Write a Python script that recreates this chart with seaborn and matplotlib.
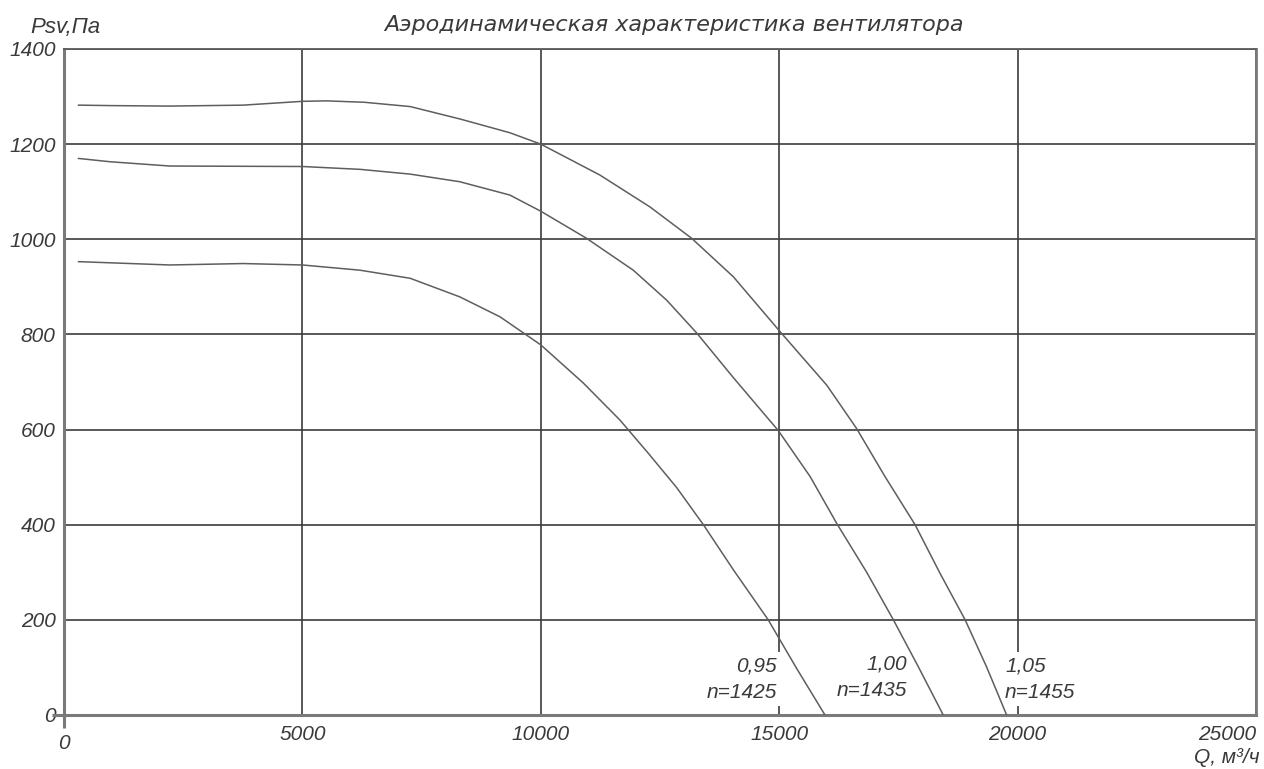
import numpy as np
import pandas as pd
import matplotlib
matplotlib.use("Agg")
import matplotlib.pyplot as plt
from matplotlib import font_manager as fm
from matplotlib.ticker import MultipleLocator
import seaborn as sns

# Fan pressure curves: static pressure Psv (Pa) vs air flow Q (m3/h)
q_095 = [300, 2220, 3760, 5000, 6210, 7260, 8300, 9145, 10000, 10890, 11660,
         12256, 12850, 13410, 14040, 14770, 15365, 15960]
p_095 = [953, 946, 949, 946, 935, 918, 879, 837, 778, 698, 620,
         550, 478, 400, 305, 200, 98, 0]

q_100 = [300, 965, 2220, 5000, 6210, 7260, 8300, 9350, 10000, 10960, 11940,
         12640, 13270, 14040, 14980, 15650, 16205, 16835, 17395, 17920, 18440]
p_100 = [1170, 1163, 1154, 1153, 1147, 1137, 1121, 1093, 1059, 1002, 935,
         872, 803, 709, 598, 501, 403, 300, 200, 101, 0]

q_105 = [300, 1000, 2200, 3760, 5000, 5500, 6300, 7260, 8300, 9350, 10000,
         11240, 12290, 13165, 14040, 15000, 16000, 16625, 17220, 17850, 18372,
         18900, 19350, 19770]
p_105 = [1282, 1281, 1280, 1282, 1290, 1291, 1288, 1279, 1253, 1224, 1200,
         1135, 1068, 1002, 921, 808, 693, 602, 501, 400, 298,
         200, 101, 0]

curve_names = ["0,95", "1,00", "1,05"]
curve_speeds = ["n=1425", "n=1435", "n=1455"]
x_ticks = [0, 5000, 10000, 15000, 20000, 25000]
y_ticks = [0, 200, 400, 600, 800, 1000, 1200, 1400]

title = "Аэродинамическая характеристика вентилятора"
y_label = "Psv,Па"
x_label = "Q, м³/ч"

df = pd.concat([
    pd.DataFrame({"Q": q, "P": p, "curve": name})
    for q, p, name in zip([q_095, q_100, q_105], [p_095, p_100, p_105], curve_names)
], ignore_index=True)

sns.set_style("white")
names = {f.name for f in fm.fontManager.ttflist}
if "Liberation Sans Narrow" in names:
    num_font, num_size = "Liberation Sans Narrow", 17
else:
    num_font, num_size = "Liberation Sans", 15
plt.rcParams["font.family"] = [num_font, "DejaVu Sans"]

ink = "#3a3a3a"
grid_c = "#3c3c3c"
spine_c = "#7a7a7a"
curve_c = "#5e5e5e"

fig = plt.figure(figsize=(12.64, 7.69), dpi=100)
ax = fig.add_axes([64 / 1264, 1 - 715 / 769, (1256 - 64) / 1264, (715 - 49) / 769])

sns.lineplot(data=df, x="Q", y="P", hue="curve", units="curve", estimator=None,
             sort=False, palette=[curve_c] * 3, linewidth=1.1, legend=False,
             ax=ax, zorder=3)
ax.set_xlabel("")
ax.set_ylabel("")

ax.set_xlim(0, 25000)
ax.set_ylim(0, 1400)
ax.set_axisbelow(True)
ax.grid(which="major", color=grid_c, linewidth=1.2)

ax.set_xticks(x_ticks)
ax.set_xticklabels(["" if v == 0 else str(v) for v in x_ticks])
ax.set_yticks(y_ticks)
ax.set_yticklabels([str(v) for v in y_ticks])
ax.xaxis.set_minor_locator(MultipleLocator(1000))
ax.yaxis.set_minor_locator(MultipleLocator(40))

ax.tick_params(axis="x", which="major", direction="in", length=10, width=1.3,
               color=spine_c, pad=7, labelsize=num_size, labelcolor=ink)
ax.tick_params(axis="x", which="minor", direction="in", length=6, width=1.1,
               color=spine_c)
ax.tick_params(axis="y", which="major", direction="in", length=0, pad=6,
               labelsize=num_size, labelcolor=ink)
ax.tick_params(axis="y", which="minor", direction="in", length=5, width=1.1,
               color=spine_c)
for lbl in ax.get_xticklabels() + ax.get_yticklabels():
    lbl.set_fontstyle("italic")
ax.get_xticklabels()[-1].set_ha("right")

# the origin label on the flow axis sits a little lower than the others
ax.annotate("0", xy=(0, 0), xycoords=("data", "axes fraction"),
            xytext=(0, -14), textcoords="offset points", ha="center", va="top",
            fontsize=num_size, fontstyle="italic", color=ink,
            annotation_clip=False)

for side, lw, c in [("left", 2.2, spine_c), ("bottom", 2.2, spine_c),
                    ("top", 1.3, "#5a5a5a"), ("right", 2.0, spine_c)]:
    ax.spines[side].set_visible(True)
    ax.spines[side].set_color(c)
    ax.spines[side].set_linewidth(lw)

# short overhang of the axes past the origin
ax.plot([0, 0], [-13 / 666, 0], transform=ax.transAxes, clip_on=False,
        color=spine_c, lw=2.2, solid_capstyle="butt")
ax.plot([-12 / 1192, 0], [0, 0], transform=ax.transAxes, clip_on=False,
        color=spine_c, lw=2.2, solid_capstyle="butt")

# curve labels
label_pos = [(14954, 36, "right"), (17680, 40, "right"), (19736, 36, "left")]
for (qx, py, ha), name, spd in zip(label_pos, curve_names, curve_speeds):
    ax.text(qx, py, f"{name}\n{spd}", ha=ha, va="baseline", multialignment=ha,
            fontsize=num_size, fontstyle="italic", color=ink, linespacing=1.5,
            zorder=1.5,
            bbox=dict(facecolor="white", edgecolor="none", pad=3))

fig.text(30 / 1264, 1 - 33 / 769, y_label, ha="left", va="baseline",
         fontsize=num_size + 1, fontstyle="italic", color=ink)
fig.text(1260 / 1264, 1 - 763 / 769, x_label, ha="right", va="baseline",
         fontsize=num_size, fontstyle="italic", color=ink)
fig.text(674 / 1264, 1 - 31 / 769, title, ha="center", va="baseline",
         fontsize=16, fontstyle="italic", color=ink,
         family=["DejaVu Sans"])

fig.savefig("out.png", dpi=100, facecolor="white")
